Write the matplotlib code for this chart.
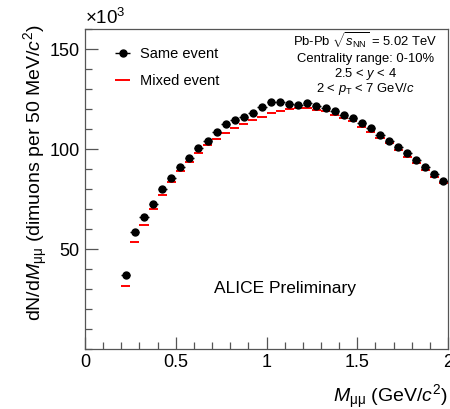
import numpy as np
import matplotlib
matplotlib.use('Agg')
import matplotlib.pyplot as plt
from matplotlib.ticker import MultipleLocator, FormatStrFormatter

plt.rcParams['font.family'] = ['Liberation Sans', 'DejaVu Sans']
plt.rcParams['mathtext.fontset'] = 'custom'
plt.rcParams['mathtext.rm'] = 'Liberation Sans'
plt.rcParams['mathtext.it'] = 'Liberation Sans:italic'
plt.rcParams['mathtext.bf'] = 'Liberation Sans:bold'

# data (x 10^3 counts per 50 MeV/c^2 bin)
mass = np.arange(0.225, 2.0, 0.05)
same_event = [37.2, 58.6, 66.0, 72.9, 80.0, 85.7, 91.4, 95.9, 100.5, 104.3,
	108.6, 112.8, 114.8, 116.0, 118.2, 121.0, 123.5, 123.5, 122.5, 122.3,
	123.0, 121.5, 120.7, 119.2, 117.3, 115.7, 113.0, 110.8, 107.1, 104.1,
	101.3, 98.2, 94.6, 91.4, 87.9, 84.4]
mixed_event = [31.5, 53.8, 62.1, 70.1, 77.2, 83.7, 89.2, 93.9, 98.2, 102.0,
	105.1, 108.0, 110.5, 112.8, 114.7, 116.3, 118.2, 119.2, 120.2, 120.5,
	120.5, 119.8, 119.0, 117.3, 115.8, 114.3, 111.3, 108.8, 105.8, 103.0,
	99.9, 96.4, 93.2, 89.9, 86.4, 83.0]
half_bin = 0.025

info = ['Pb-Pb $\\sqrt{s_{\\rm NN}}$ = 5.02 TeV', 'Centrality range: 0-10%',
	'2.5 < $y$ < 4', '2 < $p_{\\rm T}$ < 7 GeV/$c$']

fig = plt.figure(figsize=(4.5, 4.09), dpi=100)
ax = fig.add_axes([0.189, 0.1455, 0.8066, 0.7827])

ax.errorbar(mass, mixed_event, xerr=half_bin, fmt='none', ecolor='#ff0000',
	elinewidth=1.4, capsize=0, label='Mixed event', zorder=2)
ax.errorbar(mass, same_event, xerr=half_bin, fmt='o', color='k', ms=5,
	elinewidth=1.0, capsize=0, label='Same event', zorder=3)

ax.set_xlim(0, 2)
ax.set_ylim(0, 160)
ax.xaxis.set_major_locator(MultipleLocator(0.5))
ax.xaxis.set_minor_locator(MultipleLocator(0.1))
ax.xaxis.set_major_formatter(FormatStrFormatter('%g'))
ax.set_yticks([50, 100, 150])
ax.yaxis.set_minor_locator(MultipleLocator(10))
ax.tick_params(which='both', direction='in', top=False, right=False,
	labelsize=13, color='#555555', width=0.9)
ax.tick_params(which='major', length=9)
ax.tick_params(which='minor', length=5)
ax.tick_params(axis='x', pad=3)
ax.tick_params(axis='y', pad=4)
for s in ax.spines.values():
	s.set_color('#555555')
	s.set_linewidth(0.9)

ax.set_xlabel(r'$M_{\mathrm{μμ}}$ (GeV/$c^2$)', fontsize=14, loc='right')
ax.xaxis.set_label_coords(1.0, -0.105)
ax.set_ylabel(r'dN/d$M_{\mathrm{μμ}}$ (dimuons per 50 MeV/$c^2$)', fontsize=14, loc='top')
ax.yaxis.set_label_coords(-0.097, 1.015)

ax.text(0.0, 1.005, r'$\times$10$^3$', transform=ax.transAxes, fontsize=13.5,
	ha='left', va='bottom')

handles, labels = ax.get_legend_handles_labels()
ax.legend(handles[::-1], labels[::-1], loc='upper left', frameon=False,
	fontsize=10.5, handlelength=1.65, handletextpad=0.36, labelspacing=0.9,
	borderpad=0, borderaxespad=0, bbox_to_anchor=(0.0708, 0.9455))

for i, (line, yb) in enumerate(zip(info, [0.947, 0.897, 0.850, 0.803])):
	ax.text(0.772, yb, line, transform=ax.transAxes,
		fontsize=9.4, ha='center', va='baseline')

ax.text(0.551, 0.189, 'ALICE Preliminary', transform=ax.transAxes,
	fontsize=12.5, ha='center', va='center')

fig.savefig('out.png', dpi=100)
